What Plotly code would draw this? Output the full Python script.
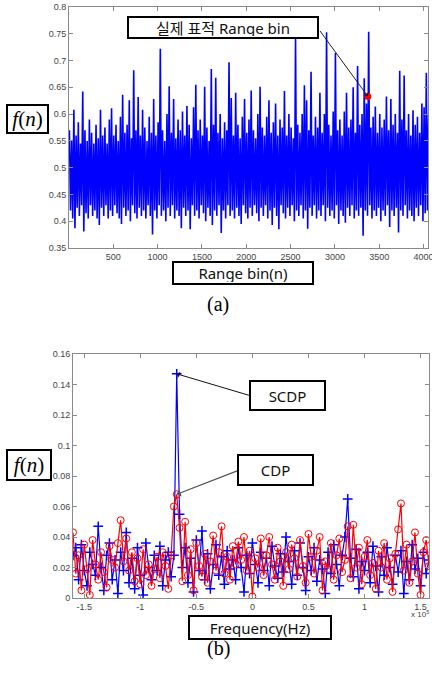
import plotly.graph_objects as go

W, H = 432, 677

# ---------------- Panel (a) data: per 25-bin segment, local max / local min ----------------
seg_start = list(range(0, 4075, 25))
seg_upper = [
    0.57, 0.55, 0.608, 0.56, 0.585, 0.545, 0.642, 0.57, 0.55, 0.59,
    0.565, 0.545, 0.58, 0.555, 0.608, 0.56, 0.575, 0.545, 0.59, 0.611,
    0.56, 0.58, 0.55, 0.595, 0.636, 0.565, 0.58, 0.626, 0.555, 0.682,
    0.57, 0.632, 0.56, 0.608, 0.575, 0.55, 0.595, 0.565, 0.628, 0.56,
    0.585, 0.722, 0.57, 0.55, 0.6, 0.652, 0.565, 0.628, 0.555, 0.59,
    0.57, 0.605, 0.56, 0.615, 0.58, 0.555, 0.613, 0.655, 0.57, 0.59,
    0.56, 0.651, 0.575, 0.55, 0.684, 0.58, 0.668, 0.565, 0.6, 0.555,
    0.585, 0.57, 0.697, 0.63, 0.56, 0.64, 0.58, 0.555, 0.595, 0.628,
    0.565, 0.59, 0.644, 0.57, 0.555, 0.6, 0.651, 0.575, 0.56, 0.595,
    0.626, 0.565, 0.585, 0.62, 0.56, 0.59, 0.575, 0.643, 0.56, 0.6,
    0.575, 0.555, 0.741, 0.58, 0.565, 0.6, 0.654, 0.626, 0.57, 0.679,
    0.56, 0.595, 0.575, 0.64, 0.565, 0.6, 0.753, 0.58, 0.56, 0.605,
    0.714, 0.57, 0.59, 0.56, 0.605, 0.64, 0.575, 0.59, 0.65, 0.565,
    0.69, 0.58, 0.6, 0.667, 0.62, 0.754, 0.575, 0.595, 0.614, 0.565,
    0.6, 0.575, 0.59, 0.633, 0.57, 0.628, 0.58, 0.6, 0.565, 0.681,
    0.59, 0.672, 0.57, 0.6, 0.56, 0.607, 0.58, 0.595, 0.565, 0.62,
    0.613, 0.677, 0.6,
]
seg_lower = [
    0.42, 0.405, 0.387, 0.425, 0.41, 0.43, 0.381, 0.415, 0.405, 0.43,
    0.41, 0.42, 0.405, 0.393, 0.425, 0.41, 0.43, 0.405, 0.42, 0.41,
    0.43, 0.415, 0.405, 0.395, 0.425, 0.41, 0.42, 0.4, 0.43, 0.415,
    0.405, 0.425, 0.41, 0.42, 0.405, 0.43, 0.41, 0.375, 0.42, 0.405,
    0.43, 0.41, 0.42, 0.4, 0.425, 0.41, 0.43, 0.405, 0.42, 0.41,
    0.387, 0.425, 0.41, 0.42, 0.385, 0.43, 0.41, 0.42, 0.405, 0.43,
    0.415, 0.4, 0.425, 0.41, 0.393, 0.42, 0.41, 0.43, 0.378, 0.42,
    0.405, 0.43, 0.41, 0.42, 0.405, 0.425, 0.41, 0.395, 0.43, 0.415,
    0.405, 0.425, 0.41, 0.43, 0.415, 0.4, 0.425, 0.41, 0.43, 0.405,
    0.42, 0.393, 0.425, 0.41, 0.385, 0.43, 0.415, 0.405, 0.425, 0.41,
    0.43, 0.4, 0.42, 0.41, 0.43, 0.405, 0.42, 0.386, 0.425, 0.41,
    0.43, 0.405, 0.42, 0.41, 0.43, 0.4, 0.425, 0.41, 0.42, 0.405,
    0.43, 0.395, 0.42, 0.41, 0.397, 0.425, 0.41, 0.43, 0.405, 0.42,
    0.41, 0.425, 0.373, 0.42, 0.41, 0.43, 0.405, 0.42, 0.41, 0.425,
    0.4, 0.42, 0.41, 0.43, 0.389, 0.42, 0.41, 0.425, 0.379, 0.42,
    0.41, 0.43, 0.405, 0.42, 0.41, 0.4, 0.425, 0.41, 0.43, 0.4,
    0.415, 0.42, 0.41,
]
target_bin = [3372]
target_val = [0.633]
a_xticks = [500, 1000, 1500, 2000, 2500, 3000, 3500, 4000]

# ---------------- Panel (b) data ----------------
freq_hz = [-160000 + 2500 * i for i in range(128)]
scdp_blue = [
    0.028, 0.033, 0.012, 0.035, 0.018, 0.008, 0.030, 0.022, 0.015, 0.047,
    0.020, 0.005, 0.028, 0.036, 0.012, 0.025, 0.003, 0.030, 0.018, 0.043,
    0.010, 0.026, 0.006, 0.033, 0.015, 0.002, 0.036, 0.020, 0.012, 0.028,
    0.018, 0.034, 0.008, 0.025, 0.030, 0.014, 0.028, 0.147, 0.055, 0.020,
    0.033, 0.010, 0.026, 0.004, 0.038, 0.018, 0.044, 0.012, 0.029, 0.006,
    0.022, 0.035, 0.015, 0.027, 0.009, 0.031, 0.019, 0.025, 0.012, 0.033,
    0.020, 0.004, 0.028, 0.016, 0.036, 0.022, 0.010, 0.030, 0.018, 0.026,
    0.008, 0.034, 0.021, 0.013, 0.029, 0.017, 0.040, 0.024, 0.009, 0.031,
    0.015, 0.036, 0.020, 0.005, 0.027, 0.018, 0.033, 0.011, 0.025, 0.019,
    0.003, 0.030, 0.016, 0.035, 0.022, 0.008, 0.028, 0.040, 0.065, 0.026,
    0.014, 0.032, 0.006, 0.024, 0.018, 0.030, 0.010, 0.034, 0.021, 0.004,
    0.027, 0.015, 0.033, 0.020, 0.009, 0.028, 0.017, 0.031, 0.003, 0.024,
    0.012, 0.035, 0.019, 0.026, 0.008, 0.030, 0.016, 0.025,
]
cdp_red = [
    0.043, 0.016, 0.028, 0.005, 0.035, 0.019, 0.002, 0.038, 0.022, 0.012,
    0.030, 0.017, 0.007, 0.034, 0.025, 0.020, 0.036, 0.051, 0.024, 0.039,
    0.018, 0.030, 0.011, 0.026, 0.009, 0.032, 0.015, 0.022, 0.008, 0.019,
    0.027, 0.013, 0.030, 0.021, 0.006, 0.028, 0.060, 0.068, 0.046, 0.011,
    0.050, 0.015, 0.032, 0.005, 0.036, 0.021, 0.014, 0.029, 0.010, 0.024,
    0.041, 0.018, 0.030, 0.047, 0.016, 0.027, 0.012, 0.034, 0.022, 0.037,
    0.025, 0.040, 0.018, 0.031, 0.001, 0.026, 0.020, 0.039, 0.015, 0.028,
    0.040, 0.022, 0.012, 0.033, 0.024, 0.008, 0.030, 0.019, 0.035, 0.026,
    0.014, 0.038, 0.021, 0.010, 0.042, 0.027, 0.016, 0.031, 0.040, 0.005,
    0.024, 0.019, 0.036, 0.012, 0.028, 0.039, 0.017, 0.025, 0.047, 0.013,
    0.048, 0.020, 0.033, 0.009, 0.027, 0.038, 0.015, 0.023, 0.006, 0.031,
    0.020, 0.036, 0.012, 0.026, 0.004, 0.029, 0.045, 0.062, 0.018, 0.035,
    0.010, 0.024, 0.043, 0.016, 0.002, 0.030, 0.038, 0.021,
]
peak_index = 37
b_xtickvals = [-150000, -100000, -50000, 0, 50000, 100000, 150000]
b_xticktext = ["-1.5", "-1", "-0.5", "0", "0.5", "1", "1.5"]

# ---------------- build figure ----------------
x_a, y_a = [], []
for b, hi, lo in zip(seg_start, seg_upper, seg_lower):
    x_a += [b + 6, b + 18]
    y_a += [hi, lo]

fig = go.Figure()
fig.add_trace(go.Scatter(x=x_a, y=y_a, mode="lines", line=dict(color="#0000ff", width=1.6),
                         xaxis="x", yaxis="y", showlegend=False, hoverinfo="skip"))
fig.add_trace(go.Scatter(x=target_bin, y=target_val, mode="markers",
                         marker=dict(color="#ff0000", size=7), xaxis="x", yaxis="y", showlegend=False))

fig.add_trace(go.Scatter(x=freq_hz, y=scdp_blue, mode="lines+markers",
                         line=dict(color="#0000ff", width=1.2),
                         marker=dict(symbol="cross-thin-open", size=7, line=dict(color="#0000ff", width=1.5)),
                         xaxis="x2", yaxis="y2", showlegend=False))
fig.add_trace(go.Scatter(x=freq_hz, y=cdp_red, mode="lines+markers",
                         line=dict(color="#ff0000", width=1.2),
                         marker=dict(symbol="circle-open", size=7, line=dict(color="#ff0000", width=1)),
                         xaxis="x2", yaxis="y2", showlegend=False))

def px(x):
    return x / W

def py(y):
    return 1 - y / H

axis_common = dict(showline=True, mirror="ticks", linecolor="#8a8a8a", linewidth=1,
                   ticks="inside", ticklen=4, tickcolor="#8a8a8a", showgrid=False, zeroline=False,
                   automargin=False, ticklabeloverflow="allow",
                   tickfont=dict(family="Liberation Sans, Arial", size=9, color="#444444"))

fig.update_layout(
    width=W, height=H, margin=dict(l=0, r=0, t=0, b=0, pad=0, autoexpand=False),
    paper_bgcolor="white", plot_bgcolor="white",
    xaxis=dict(domain=[px(69), px(428)], range=[1, 4050], tickvals=a_xticks, anchor="y", **axis_common),
    yaxis=dict(domain=[py(248), py(7)], range=[0.35, 0.8], dtick=0.05, anchor="x", **axis_common),
    xaxis2=dict(domain=[px(73), px(429)], range=[-160000, 157500], tickvals=b_xtickvals,
                ticktext=b_xticktext, anchor="y2", **axis_common),
    yaxis2=dict(domain=[py(598), py(354)], range=[0, 0.16], dtick=0.02, anchor="x2", **axis_common),
)

box_font = dict(family="Noto Sans, Noto Sans CJK KR", size=15, color="#111111")
math_font = dict(family="Liberation Serif, Times New Roman", size=21, color="black")

def box(text, cx, cy, w, h, font=box_font):
    fig.add_annotation(text=text, x=px(cx), y=py(cy), xref="paper", yref="paper",
                       showarrow=False, width=w, height=h, font=font, align="center",
                       bordercolor="black", borderwidth=2, borderpad=1, bgcolor="white",
                       xanchor="center", yanchor="middle")

box("실제 표적 Range bin", 223, 27.5, 186, 17)
box("Range bin(n)", 243, 273, 136, 18)
box("Frequency(Hz)", 260, 627.5, 138, 19)
box("SCDP", 287.5, 395.5, 71, 25)
box("CDP", 275.5, 470, 71, 26)
box("<i>f</i>(<i>n</i>)", 27.5, 119, 37, 24, math_font)
box("<i>f</i>(<i>n</i>)", 29, 465, 40, 26, math_font)

fig.add_annotation(text="(a)", x=px(218), y=py(304), xref="paper", yref="paper", showarrow=False,
                   font=dict(family="Liberation Serif, Times New Roman", size=20, color="black"))
fig.add_annotation(text="(b)", x=px(218), y=py(662), xref="paper", yref="paper", showarrow=False,
                   font=dict(family="Liberation Serif, Times New Roman", size=20, color="black"))
fig.add_annotation(text="x 10<sup>5</sup>", x=px(431), y=py(614), xref="paper", yref="paper",
                   showarrow=False, xanchor="right", yanchor="middle",
                   font=dict(family="Liberation Sans, Arial", size=8, color="#444444"))

# arrows
fig.add_annotation(text="", x=target_bin[0], y=target_val[0], xref="x", yref="y",
                   ax=-49, ay=-67, showarrow=True, arrowhead=1, arrowsize=1, arrowwidth=1,
                   arrowcolor="#222222")
fig.add_annotation(text="", x=freq_hz[peak_index], y=scdp_blue[peak_index], xref="x2", yref="y2",
                   ax=74, ay=22, showarrow=True, arrowhead=1, arrowsize=1, arrowwidth=1,
                   arrowcolor="#111111")
fig.add_annotation(text="", x=freq_hz[peak_index], y=cdp_red[peak_index], xref="x2", yref="y2",
                   ax=62, ay=-24, showarrow=True, arrowhead=1, arrowsize=1, arrowwidth=1.3,
                   arrowcolor="#555555")

fig.write_html("out.html", config={"displayModeBar": False},
               post_script="document.body.style.margin='0';document.body.style.overflow='hidden';")
